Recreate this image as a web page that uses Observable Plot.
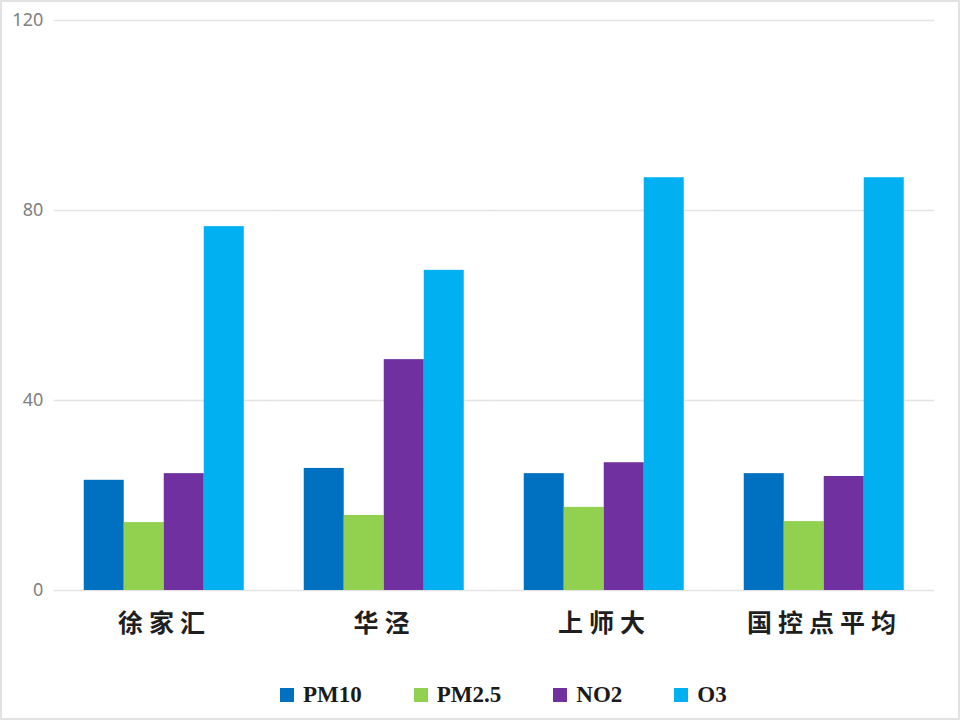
<!DOCTYPE html>
<html>
<head>
<meta charset="utf-8">
<script src="https://cdn.jsdelivr.net/npm/d3@7"></script>
<script src="https://cdn.jsdelivr.net/npm/@observablehq/plot@0.6"></script>
<style>
  body { margin: 0; background: #fff; }
  #wrap { position: relative; width: 960px; height: 720px; overflow: hidden;
          box-shadow: inset 0 0 0 2px #e2e2e2; }
  #chart { position: absolute; left: 0; top: 0; }
  #legend { position: absolute; left: 280px; top: 676px; height: 38px; display: flex; align-items: center;
            font-family: "Liberation Serif", "DejaVu Serif", serif; font-weight: bold; font-size: 23px; color: #1a1a1a; }
  .item { display: flex; align-items: center; margin-right: 52px; }
  .sw { width: 14px; height: 14px; margin-right: 9px; }
</style>
</head>
<body>
<div id="wrap">
  <div id="chart"></div>
  <div id="legend"></div>
</div>
<script>
// ---- data ----
const sites = ["徐家汇", "华泾", "上师大", "国控点平均"];
const pollutants = ["PM10", "PM2.5", "NO2", "O3"];
const pm10  = [23.2, 25.7, 24.6, 24.6];
const pm25  = [14.3, 15.8, 17.5, 14.5];
const no2   = [24.6, 48.6, 26.9, 24.0];
const o3    = [76.6, 67.4, 86.9, 86.9];
const yTicks = [0, 40, 80, 120];
const colors = ["#0070C0", "#92D050", "#7030A0", "#00B0F0"];

const series = [pm10, pm25, no2, o3];
const rows = [];
sites.forEach((s, i) => pollutants.forEach((p, j) => rows.push({site: s, pollutant: p, value: series[j][i]})));

// ---- layout ----
const W = 960, H = 660, gridL = 53, gridR = 25, mT = 20, mB = 70;
const pIn = 0.2744;
const step = (W - gridL - gridR) / sites.length;
const gap = step * pIn;

const chart = Plot.plot({
  width: W, height: H,
  marginLeft: gridL + gap / 2, marginRight: gridR + gap / 2, marginTop: mT, marginBottom: mB,
  style: { background: "transparent", fontFamily: "'Noto Sans', sans-serif", overflow: "visible" },
  facet: { data: rows, x: "site" },
  fx: { domain: sites, paddingInner: pIn, paddingOuter: 0, label: null, tickSize: 0, tickPadding: 24 },
  x: { domain: pollutants, axis: null, padding: 0 },
  y: { domain: [0, 120] },
  color: { domain: pollutants, range: colors },
  marks: [
    Plot.ruleY(yTicks, { stroke: "#e4e4e4", strokeWidth: 1.5, insetLeft: -gap / 2, insetRight: -gap / 2 }),
    Plot.barY(rows, { x: "pollutant", y: "value", fill: "pollutant" }),
    Plot.axisY({ ticks: yTicks, tickSize: 0, tickPadding: 11 + gap / 2, label: null, fontSize: 18, color: "#808080" })
  ]
});
document.getElementById("chart").appendChild(chart);

d3.select(chart).selectAll('[aria-label^="fx-axis"] text')
  .attr("fill", "#1f1f1f")
  .style("font-family", "'Noto Sans CJK SC', sans-serif")
  .style("font-weight", "bold")
  .style("font-size", "25px")
  .style("letter-spacing", "6px");

// ---- legend ----
const legend = d3.select("#legend");
pollutants.forEach((p, i) => {
  const it = legend.append("div").attr("class", "item");
  it.append("div").attr("class", "sw").style("background", colors[i]);
  it.append("span").text(p);
});
</script>
</body>
</html>
